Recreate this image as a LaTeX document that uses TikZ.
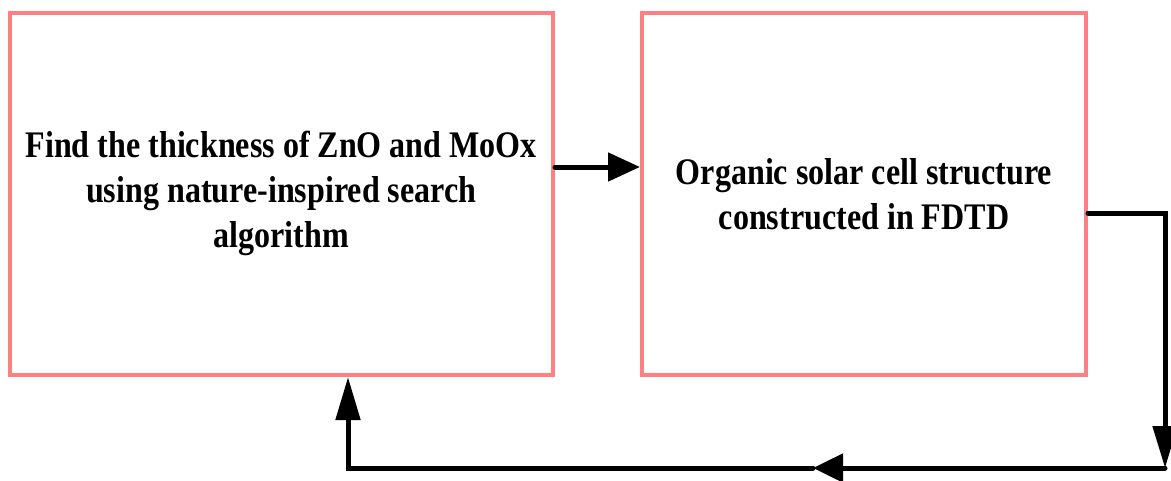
\documentclass[tikz,border=0pt]{standalone}
\usepackage{fontspec}
\newfontfamily\boxfont{Liberation Serif}[FakeStretch=0.855]
\usetikzlibrary{arrows.meta}

\tikzset{
  stagebox/.style={draw=boxpink, line width=4pt, inner sep=0pt,
    align=center, font=\boxfont\bfseries\fontsize{37.5}{45}\selectfont},
  flow/.style={draw=black, line width=5pt, line cap=round},
}
\definecolor{boxpink}{RGB}{255,128,128}

\begin{document}
\begin{tikzpicture}[x=1pt, y=-1pt]
  \useasboundingbox (0,0) rectangle (1171,480);

  % the two stages
  \node[stagebox, minimum width=543.5pt, minimum height=362.5pt] (L) at (281.25,193.75)
    {Find the thickness of ZnO and MoOx\\using nature-inspired search\\algorithm};
  \node[stagebox, minimum width=444pt, minimum height=362.5pt] (R) at (864,193.75)
    {Organic solar cell structure\\constructed in FDTD};

  % routing points of the feedback loop
  \coordinate (lout) at (L.east |- 0,167);
  \coordinate (rin)  at (R.west |- 0,167);
  \coordinate (rout) at (R.east |- 0,213);
  \coordinate (c1) at (1165,213);
  \coordinate (c2) at (1165,468);
  \coordinate (mid) at (813,468);
  \coordinate (c3) at (348,468);
  \coordinate (lin) at (c3 |- L.south);

  % forward arrow
  \draw[flow, -{Triangle[length=32pt, width=28pt]}] (lout) -- (rin);

  % feedback loop back to the search stage
  \draw[flow, line join=miter, -{Triangle[length=42pt, width=24pt]}] (rout) -- (c1) -- (c2);
  \draw[flow, -{Triangle[length=30pt, width=28pt]}] (c2) -- (mid);
  \draw[flow, line join=miter, -{Triangle[length=43pt, width=24pt]}] (mid) -- (c3) -- (lin);
\end{tikzpicture}
\end{document}
